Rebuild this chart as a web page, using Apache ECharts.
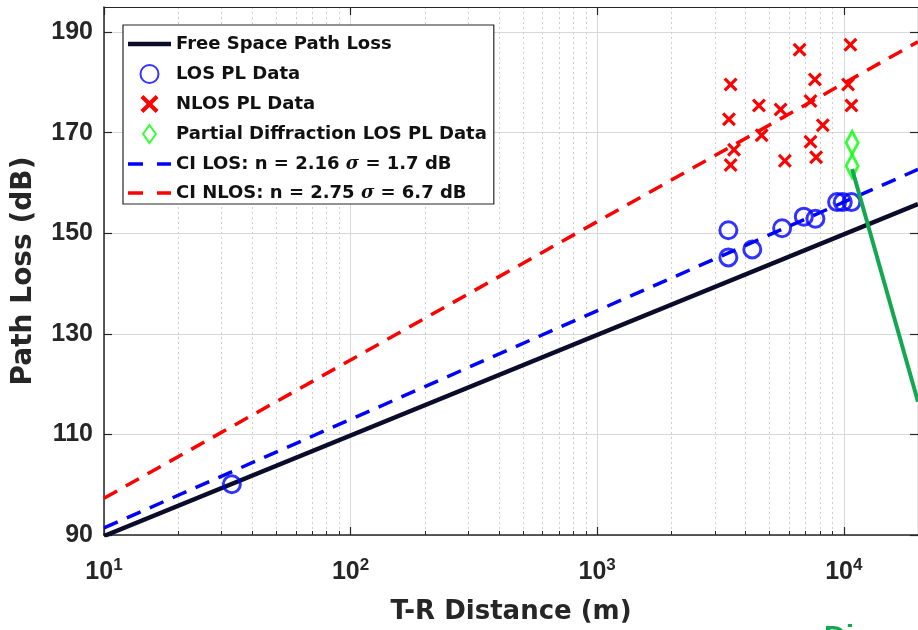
<!DOCTYPE html>
<html>
<head>
<meta charset="utf-8">
<script src="https://cdn.jsdelivr.net/npm/echarts@6/dist/echarts.min.js"></script>
<style>html,body{margin:0;padding:0;background:#fff;}#c{width:918px;height:630px;}</style>
</head>
<body>
<div id="c"></div>
<script>
// ---- data ----
const xMin = 10, xMax = 20000, yMin = 90, yMax = 195;
const yTicks = [90, 110, 130, 150, 170, 190];
const xMajor = [10, 100, 1000, 10000];
const xMinor = [20,30,40,50,60,70,80,90,200,300,400,500,600,700,800,900,2000,3000,4000,5000,6000,7000,8000,9000,20000];

const losDist = [33, 3404, 3404, 4256, 5623, 6887, 7674, 9397, 9908, 10737];
const losPL   = [100.1, 150.6, 145.2, 146.8, 151.0, 153.3, 152.9, 156.2, 156.2, 156.2];

const nlosDist = [3477, 3423, 3477, 3589, 4529, 4645, 5543, 5770, 6620, 7637, 7330, 7330, 7725, 8222, 10640, 10410, 10740];
const nlosPL   = [179.6, 172.7, 163.6, 166.6, 175.4, 169.5, 174.6, 164.4, 186.5, 180.6, 176.3, 168.2, 165.1, 171.5, 187.5, 179.6, 175.4];

const pdDist = [10810, 10810];
const pdPL   = [168.0, 163.4];

const lineDist  = [10, 20000];
const fsplPL    = [89.8, 155.8];
const ciLosPL   = [91.4, 162.7];
const ciNlosPL  = [97.3, 188.1];

const annotDist = [10810, 20000];
const annotPL   = [162.8, 116.5];

const names = ['Free Space Path Loss', 'LOS PL Data', 'NLOS PL Data', 'Partial Diffraction LOS PL Data',
  'CI LOS: n = 2.16 σ = 1.7 dB', 'CI NLOS: n = 2.75 σ = 6.7 dB'];

// ---- build ----
const zip = (a, b) => a.map((v, i) => [v, b[i]]);
const FONT = '"Liberation Sans", Arial, Helvetica, sans-serif';
const TFONT = '"DejaVu Sans", "Liberation Sans", Arial, sans-serif';
const AX = '#262626';
const crossPath = 'path://M0,1.6 L1.6,0 L5,3.4 L8.4,0 L10,1.6 L6.6,5 L10,8.4 L8.4,10 L5,6.6 L1.6,10 L0,8.4 L3.4,5 Z';
const diamondPath = 'path://M5,0 L10,7 L5,14 L0,7 Z';
const solidIcon = 'path://M0,0 H43 V4.5 H0 Z';
const dashIcon = 'path://M0,0 H15 V3.6 H0 Z M29,0 H43 V3.6 H29 Z';

const chart = echarts.init(document.getElementById('c'), null, {renderer: 'canvas'});
const option = {
  animation: false,
  backgroundColor: '#fff',
  grid: {left: 104, top: 7, width: 815, height: 531, containLabel: false},
  xAxis: [
    {
      type: 'log', logBase: 10, min: xMin, max: xMax, position: 'bottom',
      name: 'T-R Distance (m)', nameLocation: 'middle', nameGap: 64,
      nameTextStyle: {fontFamily: TFONT, fontWeight: 'bold', fontSize: 26, color: AX},
      axisLine: {show: true, onZero: false, lineStyle: {color: AX, width: 1.5}},
      axisTick: {show: true, inside: true, length: 8, customValues: xMajor, lineStyle: {color: AX, width: 1.2}},
      axisLabel: {
        customValues: xMajor, margin: 22,
        formatter: function (v) { const e = Math.round(Math.log10(v)); return '{b|10}{s|' + e + '}'; },
        rich: {
          b: {fontFamily: FONT, fontWeight: 'bold', fontSize: 25, color: AX, lineHeight: 30},
          s: {fontFamily: FONT, fontWeight: 'bold', fontSize: 17, color: AX, padding: [0, 0, 14, 0], lineHeight: 30}
        }
      },
      splitLine: {show: true, lineStyle: {color: '#d8d8d8', width: 1}},
      minorTick: {show: false}
    },
    {
      type: 'log', logBase: 10, min: xMin, max: xMax, position: 'bottom',
      axisLine: {show: false},
      axisTick: {show: true, inside: true, length: 4, customValues: xMinor, lineStyle: {color: AX, width: 1}},
      axisLabel: {show: false},
      splitLine: {show: true, lineStyle: {color: '#cfcfcf', width: 1, type: [2, 3]}}
    },
    {
      type: 'log', logBase: 10, min: xMin, max: xMax, position: 'top',
      axisLine: {show: true, onZero: false, lineStyle: {color: AX, width: 1.2}},
      axisTick: {show: true, inside: true, length: 8, customValues: xMajor, lineStyle: {color: AX, width: 1.2}},
      axisLabel: {show: false},
      splitLine: {show: false}
    }
  ],
  yAxis: [
    {
      type: 'value', min: yMin, max: yMax, position: 'left',
      name: 'Path Loss (dB)', nameLocation: 'middle', nameGap: 66,
      nameTextStyle: {fontFamily: TFONT, fontWeight: 'bold', fontSize: 28, color: AX},
      axisLine: {show: true, onZero: false, lineStyle: {color: AX, width: 1.5}},
      axisTick: {show: true, inside: true, length: 8, customValues: yTicks, lineStyle: {color: AX, width: 1.2}},
      axisLabel: {customValues: yTicks, margin: 11, fontFamily: FONT, fontWeight: 'bold', fontSize: 25, color: AX},
      splitLine: {show: true, lineStyle: {color: '#d8d8d8', width: 1}}
    },
    {
      type: 'value', min: yMin, max: yMax, position: 'right',
      axisLine: {show: true, onZero: false, lineStyle: {color: AX, width: 1.2}},
      axisTick: {show: true, inside: true, length: 8, customValues: yTicks, lineStyle: {color: AX, width: 1.2}},
      axisLabel: {show: false},
      splitLine: {show: false}
    }
  ],
  legend: {
    data: [
      {name: names[0], icon: solidIcon},
      {name: names[1]},
      {name: names[2]},
      {name: names[3]},
      {name: names[4], icon: dashIcon},
      {name: names[5], icon: dashIcon}
    ],
    orient: 'vertical', left: 123, top: 25,
    padding: [10, 7, 2, 5],
    itemWidth: 43, itemHeight: 18, itemGap: 11,
    symbolKeepAspect: true,
    backgroundColor: '#fff', borderColor: '#262626', borderWidth: 1.2, borderRadius: 0,
    selectedMode: false,
    formatter: function (n) {
      if (n.indexOf('σ') >= 0) {
        const p = n.split('σ');
        return '{t|' + p[0] + '}{i|σ}{t|' + p[1] + '}';
      }
      return '{t|' + n + '}';
    },
    textStyle: {
      fontFamily: TFONT, fontWeight: 'bold', fontSize: 18, color: '#111',
      rich: {
        t: {fontFamily: TFONT, fontWeight: 'bold', fontSize: 18, color: '#111', lineHeight: 20},
        i: {fontFamily: '"DejaVu Serif", "Liberation Serif", serif', fontStyle: 'italic', fontSize: 18, color: '#111', lineHeight: 20}
      }
    }
  },
  series: [
    {
      name: names[0], type: 'line', data: zip(lineDist, fsplPL), symbol: 'none', z: 3,
      lineStyle: {color: '#0b0b2a', width: 4.5}, itemStyle: {color: '#0b0b2a'}
    },
    {
      name: names[1], type: 'scatter', data: zip(losDist, losPL), symbol: 'circle', symbolSize: 17, z: 5,
      itemStyle: {color: 'rgba(0,0,0,0)', borderColor: '#0000ff', borderWidth: 3}
    },
    {
      name: names[2], type: 'scatter', data: zip(nlosDist, nlosPL), symbol: crossPath, symbolSize: 14,
      symbolKeepAspect: true, z: 5,
      itemStyle: {color: '#ff0000', opacity: 1}
    },
    {
      name: names[3], type: 'scatter', data: zip(pdDist, pdPL), symbol: diamondPath, symbolSize: [17, 23],
      symbolKeepAspect: true, z: 6,
      itemStyle: {color: 'rgba(0,0,0,0)', borderColor: '#00ff00', borderWidth: 3}
    },
    {
      name: names[4], type: 'line', data: zip(lineDist, ciLosPL), symbol: 'none', z: 4,
      lineStyle: {color: '#0000ff', width: 3.5, type: [15, 10]}, itemStyle: {color: '#0000ff'}
    },
    {
      name: names[5], type: 'line', data: zip(lineDist, ciNlosPL), symbol: 'none', z: 4,
      lineStyle: {color: '#ff0000', width: 3.5, type: [15, 10]}, itemStyle: {color: '#ff0000'}
    },
    {
      name: 'annotation', type: 'line', data: zip(annotDist, annotPL), symbol: 'none', z: 7,
      lineStyle: {color: '#13a84f', width: 4}, itemStyle: {color: '#13a84f'}, silent: true
    }
  ],
  graphic: [
    {type: 'text', left: 824, top: 623, silent: true,
     style: {text: 'Di', fontFamily: FONT, fontWeight: 'bold', fontSize: 30, fill: '#13a84f'}}
  ]
};
chart.setOption(option);
</script>
</body>
</html>
